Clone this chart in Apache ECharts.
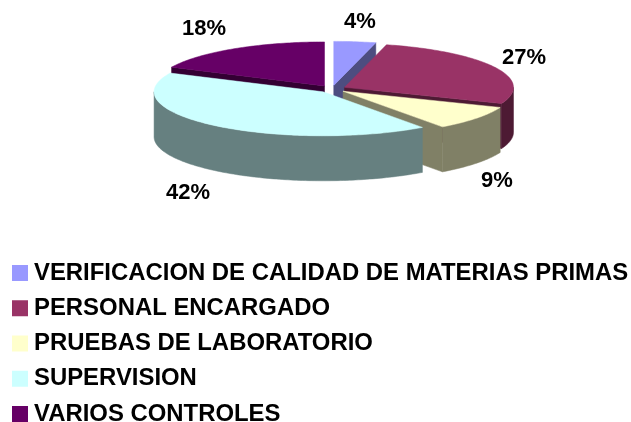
<!DOCTYPE html>
<html>
<head>
<meta charset="utf-8">
<style>html,body{margin:0;padding:0;background:#fff}#c{width:631px;height:422px}</style>
<script src="https://cdn.jsdelivr.net/npm/echarts@6/dist/echarts.min.js"></script>
</head>
<body>
<div id="c"></div>
<script>
var categories = ['VERIFICACION DE CALIDAD DE MATERIAS PRIMAS','PERSONAL ENCARGADO','PRUEBAS DE LABORATORIO','SUPERVISION','VARIOS CONTROLES'];
var values = [4, 27, 9, 42, 18];
var topColors = ['#9999ff','#993366','#ffffcc','#ccffff','#660066'];
var sideColors = ['#4d4d80','#4d1a33','#808066','#668080','#330033'];
var paintOrder = [0, 4, 1, 2, 3];
var labelAnchors = [[360,22],[524,58],[497,181],[188,193],[204,29]];

var CX = 332, CY = 89, RX = 169, RY = 44, DEPTH = 45, EXPLODE = 14, K = RY / RX;
var total = values.reduce(function (a, b) { return a + b; }, 0);
var rad = Math.PI / 180;

function startAngle(i) {
  var s = 0;
  for (var j = 0; j < i; j++) s += values[j];
  return s / total * 360;
}
function renderSlice(i, value) {
  var a0 = startAngle(i), a1 = a0 + value / total * 360, mid = (a0 + a1) / 2;
  var ox = CX + EXPLODE * Math.sin(mid * rad), oy = CY - EXPLODE * K * Math.cos(mid * rad);
  function rim(a, d) { return [ox + RX * Math.sin(a * rad), oy - RY * Math.cos(a * rad) + d]; }
  function arc(from, to, d) {
    var pts = [], n = Math.max(2, Math.ceil(Math.abs(to - from)));
    for (var k = 0; k <= n; k++) pts.push(rim(from + (to - from) * k / n, d));
    return pts;
  }
  function poly(points, color) {
    return { type: 'polygon', shape: { points: points },
      style: { fill: color, stroke: color, lineWidth: 0.5 } };
  }
  function wall(a) {
    return poly([[ox, oy], rim(a, 0), rim(a, DEPTH), [ox, oy + DEPTH]], sideColors[i]);
  }
  var kids = [];
  if (Math.sin(a0 * rad) < -1e-6) kids.push(wall(a0));
  if (Math.sin(a1 * rad) > 1e-6) kids.push(wall(a1));
  var f = Math.max(a0, 90), t = Math.min(a1, 270);
  if (t > f) kids.push(poly(arc(f, t, 0).concat(arc(t, f, DEPTH)), sideColors[i]));
  kids.push(poly([[ox, oy]].concat(arc(a0, a1, 0)), topColors[i]));
  kids.push({ type: 'text', style: {
    x: labelAnchors[i][0], y: labelAnchors[i][1], text: value + '%',
    fill: '#000', align: 'center', verticalAlign: 'middle',
    font: 'bold 22px "Liberation Sans", Arial, sans-serif' } });
  return { type: 'group', children: kids };
}

var chart = echarts.init(document.getElementById('c'), null, { renderer: 'canvas' });
chart.setOption({
  animation: false,
  backgroundColor: '#fff',
  legend: {
    data: categories, orient: 'vertical', left: 12, top: 261, padding: 0,
    width: 625, height: 175,
    icon: 'rect', itemWidth: 16, itemHeight: 16, itemGap: 11.25,
    selectedMode: false,
    textStyle: { fontFamily: '"Liberation Sans", Arial, sans-serif', fontWeight: 'bold',
      fontSize: 23.9, color: '#000', lineHeight: 22, padding: [0, 0, 0, 1] }
  },
  series: categories.map(function (name, i) {
    return {
      type: 'custom', name: name, coordinateSystem: 'none',
      z: 2 + paintOrder.indexOf(i), silent: true,
      itemStyle: { color: topColors[i] },
      data: [[values[i]]],
      renderItem: function (params, api) { return renderSlice(i, api.value(0)); }
    };
  })
});
</script>
</body>
</html>
